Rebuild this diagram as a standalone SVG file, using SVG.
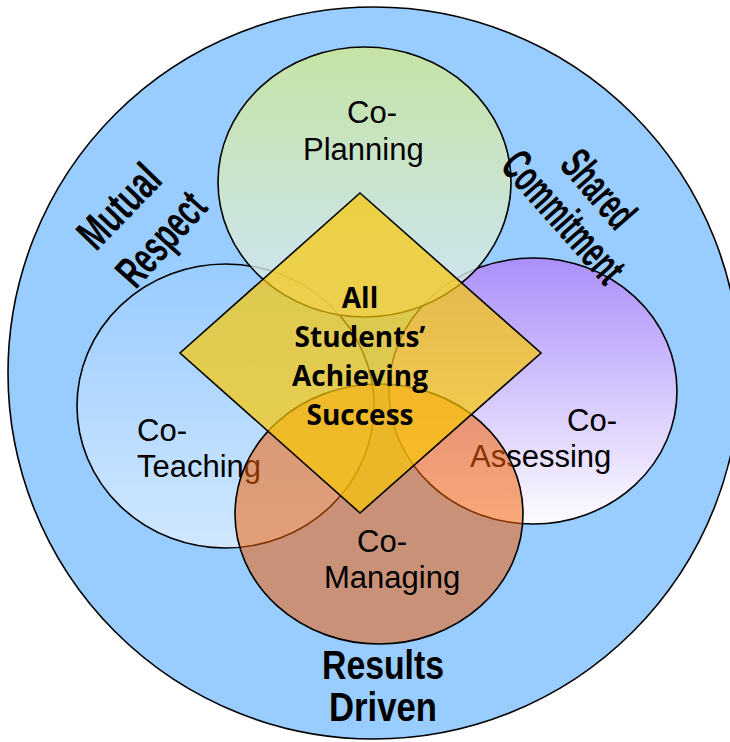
<svg xmlns="http://www.w3.org/2000/svg" width="730" height="742" viewBox="0 0 730 742">
<defs>
<linearGradient id="gPlan" x1="0" y1="0" x2="0" y2="1">
<stop offset="0" stop-color="#d0e98e"/>
<stop offset="1" stop-color="#dbeaf6"/>
</linearGradient>
<linearGradient id="gTeach" x1="0" y1="0" x2="0" y2="1">
<stop offset="0" stop-color="#99ccff"/>
<stop offset="1" stop-color="#d0e7ff"/>
</linearGradient>
<linearGradient id="gAssess" x1="0" y1="0" x2="0" y2="1">
<stop offset="0" stop-color="#ab8ffa"/>
<stop offset="1" stop-color="#fdfcff"/>
</linearGradient>
<style>
.edge{stroke:#000;stroke-width:1.6}
.lbl{font-family:"Liberation Sans",Arial,sans-serif;font-size:31px;fill:#000}
.ctr{font-family:"Open Sans","Noto Sans",sans-serif;font-weight:bold;font-size:28px;fill:#000;text-anchor:middle}
.val{font-family:"Liberation Sans Narrow","Liberation Sans",Arial,sans-serif;font-weight:bold;font-size:45px;fill:#000;text-anchor:middle}
.res{font-family:"Liberation Sans Narrow","Liberation Sans",Arial,sans-serif;font-weight:bold;font-size:40px;fill:#000;text-anchor:middle}
</style>
</defs>
<g id="outer">
<circle cx="374" cy="373" r="366" fill="#99ccff" class="edge"/>
</g>
<g id="co-teaching">
<ellipse cx="225.5" cy="406" rx="148.5" ry="142" fill="url(#gTeach)" class="edge"/>
<text class="lbl" x="137" y="441">Co-</text>
<text class="lbl" x="137" y="477">Teaching</text>
</g>
<g id="co-assessing">
<ellipse cx="533" cy="391" rx="144" ry="133" fill="url(#gAssess)" class="edge"/>
<text class="lbl" x="567" y="431">Co-</text>
<text class="lbl" x="470" y="467">Assessing</text>
</g>
<g id="co-planning">
<ellipse cx="364.5" cy="182" rx="146.5" ry="135" fill="url(#gPlan)" fill-opacity="0.8" class="edge"/>
<text class="lbl" x="347" y="123">Co-</text>
<text class="lbl" x="303" y="160">Planning</text>
</g>
<g id="co-managing">
<ellipse cx="379" cy="514" rx="144" ry="130" fill="#f35e00" fill-opacity="0.53" class="edge"/>
<text class="lbl" x="357" y="552">Co-</text>
<text class="lbl" x="324" y="588">Managing</text>
</g>
<g id="center">
<polygon points="360,193 541,353 360,513 180,353" fill="#f9c805" fill-opacity="0.7" class="edge"/>
<text class="ctr" x="360" y="308">All</text>
<text class="ctr" x="360" y="347">Students’</text>
<text class="ctr" x="360" y="386">Achieving</text>
<text class="ctr" x="360" y="425">Success</text>
</g>
<g id="mutual-respect">
<text class="val" transform="translate(130,217) rotate(-46)" textLength="98" lengthAdjust="spacingAndGlyphs">Mutual</text>
<text class="val" transform="translate(172.5,249.5) rotate(-48)" textLength="110" lengthAdjust="spacingAndGlyphs">Respect</text>
</g>
<g id="shared-commitment">
<text class="val" transform="translate(587,199) rotate(49)" textLength="88" lengthAdjust="spacingAndGlyphs">Shared</text>
<text class="val" transform="translate(552,227) rotate(48.5)" textLength="160" lengthAdjust="spacingAndGlyphs">Commitment</text>
</g>
<g id="results-driven">
<text class="res" x="383" y="679" textLength="122" lengthAdjust="spacingAndGlyphs">Results</text>
<text class="res" x="383" y="721" textLength="108" lengthAdjust="spacingAndGlyphs">Driven</text>
</g>
<g id="connectors"/>
</svg>
